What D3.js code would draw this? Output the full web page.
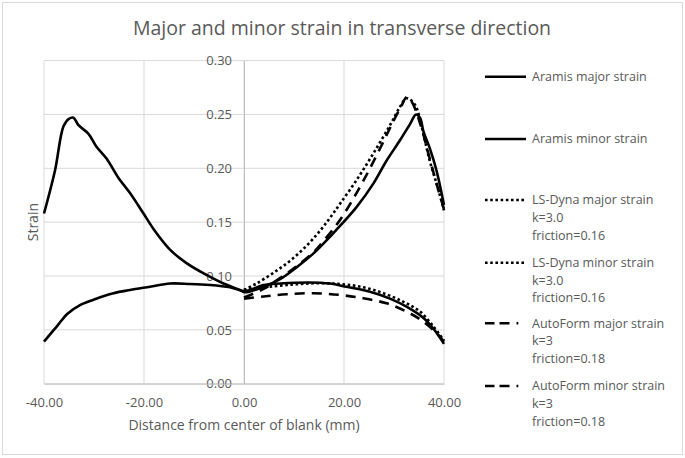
<!DOCTYPE html>
<html>
<head>
<meta charset="utf-8">
<script src="https://cdn.jsdelivr.net/npm/d3@7"></script>
<style>
  body { margin: 0; background: #fff; }
  text { font-family: "Open Sans", "Noto Sans", sans-serif; fill: #595959; }
</style>
</head>
<body>
<div id="chart"></div>
<script>
// Values: [distance mm, strain]
var aramisMajor = [[-40,0.158],[-37.8,0.198],[-36.1,0.239],[-35,0.246],[-34.1,0.247],[-33.1,0.240],[-31.1,0.232],
  [-29.5,0.220],[-27.5,0.209],[-25.1,0.191],[-22.8,0.177],[-20.1,0.158],[-18,0.143],[-14.7,0.124],[-11.5,0.112],
  [-7.5,0.101],[-4.1,0.093],[-0.8,0.087],[0.2,0.085],[3.9,0.090],[7.2,0.097],[10.5,0.108],[13.9,0.121],[18.5,0.143],
  [22.5,0.164],[25.9,0.186],[28.5,0.207],[31.2,0.226],[33.2,0.241],[34.4,0.250],[35.2,0.247],[35.9,0.234],
  [37.2,0.218],[38.5,0.198],[40,0.166]];
var aramisMinor = [[-40,0.039],[-37.3,0.054],[-35.3,0.065],[-32.8,0.073],[-30.1,0.078],[-26.1,0.084],[-22.8,0.087],
  [-18.8,0.090],[-14.8,0.093],[-10.8,0.0926],[-6.8,0.0916],[-2.8,0.0895],[0.2,0.086],[3.9,0.0916],[7.2,0.093],
  [12.9,0.094],[17.2,0.093],[20.5,0.090],[25.2,0.0854],[29.2,0.079],[32.5,0.0715],[35.9,0.061],[37.9,0.051],[40,0.037]];
var lsDynaMajor = [[0,0.087],[2.5,0.093],[5.9,0.103],[9.2,0.114],[12.5,0.128],[15.2,0.142],[17.2,0.154],[19.2,0.167],
  [22.5,0.189],[25.9,0.214],[29.2,0.240],[31.2,0.257],[32.5,0.265],[34.2,0.259],[35.5,0.239],[37.2,0.206],[38.5,0.186],[40,0.161]];
var lsDynaMinor = [[0,0.087],[3.9,0.0895],[8.5,0.0916],[13.9,0.0932],[19.2,0.0926],[23.9,0.0895],[27.9,0.084],
  [31.9,0.076],[35.2,0.067],[37.9,0.053],[40,0.040]];
var autoFormMajor = [[0,0.080],[3.9,0.088],[7.2,0.098],[10.5,0.109],[13.9,0.122],[16,0.133],[19.2,0.152],[22.5,0.177],
  [25.2,0.200],[27.9,0.225],[29.9,0.244],[31.5,0.258],[32.5,0.266],[33.5,0.262],[35.2,0.242],[37.2,0.208],[38.5,0.186],[40,0.162]];
var autoFormMinor = [[0,0.079],[3.9,0.081],[8.5,0.083],[13.9,0.084],[19.2,0.0824],[23.9,0.0793],[28.5,0.0746],
  [32.5,0.067],[35.9,0.0576],[38.5,0.047],[40,0.039]];

var seriesNames = ["Aramis major strain", "Aramis minor strain", "LS-Dyna major strain", "LS-Dyna minor strain",
  "AutoForm major strain", "AutoForm minor strain"];
var seriesNotes = [[], [], ["k=3.0", "friction=0.16"], ["k=3.0", "friction=0.16"], ["k=3", "friction=0.18"], ["k=3", "friction=0.18"]];
var xTicks = [-40, -20, 0, 20, 40];
var yTicks = [0, 0.05, 0.10, 0.15, 0.20, 0.25, 0.30];

var seriesData = [aramisMajor, aramisMinor, lsDynaMajor, lsDynaMinor, autoFormMajor, autoFormMinor];
var dashes = [null, null, "2.6,2.6", "2.6,2.6", "10,7", "10,7"];
var legendDashes = [null, null, "2.6,2.6", "2.6,2.6", "9.5,5,10,7,1.8,20", "9.5,5,10,7,1.8,20"];

var W = 685, H = 458;
var margin = {top: 60.6, right: 241, bottom: 74.3, left: 44},
    width = W - margin.left - margin.right,
    height = H - margin.top - margin.bottom;

var root = d3.select("#chart").append("svg")
  .attr("width", W)
  .attr("height", H);

// outer chart border
root.append("rect")
  .attr("x", 2.5).attr("y", 2.5)
  .attr("width", 680).attr("height", 452)
  .attr("fill", "none")
  .attr("stroke", "#d9d9d9");

root.append("text")
  .attr("x", 342)
  .attr("y", 35)
  .attr("text-anchor", "middle")
  .style("font-size", "19.5px")
  .text("Major and minor strain in transverse direction");

var svg = root.append("g")
  .attr("transform", `translate(${margin.left},${margin.top})`);

var x = d3.scaleLinear().domain([-40, 40]).range([0, width]);
var y = d3.scaleLinear().domain([0, 0.30]).range([height, 0]);
var fmt = d => d.toFixed(2);

// gridlines
svg.append("g")
  .selectAll("line")
  .data(yTicks)
  .enter().append("line")
  .attr("x1", 0).attr("x2", width)
  .attr("y1", d => y(d)).attr("y2", d => y(d))
  .attr("stroke", "#d9d9d9");

svg.append("g")
  .selectAll("line")
  .data(xTicks)
  .enter().append("line")
  .attr("x1", d => x(d)).attr("x2", d => x(d))
  .attr("y1", 0).attr("y2", height)
  .attr("stroke", "#d9d9d9");

// Y axis sits on x = 0
var yAxis = svg.append("g")
  .attr("transform", `translate(${x(0)},0)`)
  .call(d3.axisLeft(y).tickValues(yTicks).tickFormat(fmt).tickSize(0).tickPadding(12));
yAxis.select(".domain").attr("stroke", "#bfbfbf");
yAxis.selectAll("text").style("font-size", "13px").attr("fill", "#595959");

var xAxis = svg.append("g")
  .attr("transform", `translate(0,${height})`)
  .call(d3.axisBottom(x).tickValues(xTicks).tickFormat(fmt).tickSize(0).tickPadding(14));
xAxis.select(".domain").attr("stroke", "#bfbfbf");
xAxis.selectAll("text").style("font-size", "13px").attr("fill", "#595959");

// axis titles
svg.append("text")
  .attr("x", x(0))
  .attr("y", height + 46)
  .attr("text-anchor", "middle")
  .style("font-size", "14px")
  .text("Distance from center of blank (mm)");

svg.append("text")
  .attr("transform", `translate(${-6},${height / 2}) rotate(-90)`)
  .attr("text-anchor", "middle")
  .style("font-size", "14px")
  .text("Strain");

// lines
var line = d3.line()
  .x(d => x(d[0]))
  .y(d => y(d[1]))
  .curve(d3.curveCatmullRom);

svg.selectAll(".series")
  .data(seriesData)
  .enter().append("path")
  .attr("class", "series")
  .attr("fill", "none")
  .attr("stroke", "#000")
  .attr("stroke-width", 2.6)
  .attr("stroke-linejoin", "round")
  .attr("stroke-dasharray", (d, i) => dashes[i])
  .attr("d", line);

// legend
var legendY = [76.7, 139, 200, 262.7, 323.3, 386];
var legend = root.selectAll(".legend")
  .data(seriesNames)
  .enter().append("g")
  .attr("class", "legend")
  .attr("transform", (d, i) => `translate(485,${legendY[i]})`);

legend.append("line")
  .attr("x1", 0).attr("x2", 41)
  .attr("y1", 0).attr("y2", 0)
  .attr("stroke", "#000")
  .attr("stroke-width", 2.6)
  .attr("stroke-dasharray", (d, i) => legendDashes[i]);

legend.append("text")
  .attr("x", 47)
  .attr("y", 0)
  .attr("dy", "0.35em")
  .style("font-size", "12.5px")
  .text(d => d);

legend.each(function(d, i) {
  d3.select(this).selectAll(".note")
    .data(seriesNotes[i])
    .enter().append("text")
    .attr("class", "note")
    .attr("x", 47)
    .attr("y", (n, j) => (j + 1) * 17.6)
    .attr("dy", "0.35em")
    .style("font-size", "12.5px")
    .text(n => n);
});
</script>
</body>
</html>
